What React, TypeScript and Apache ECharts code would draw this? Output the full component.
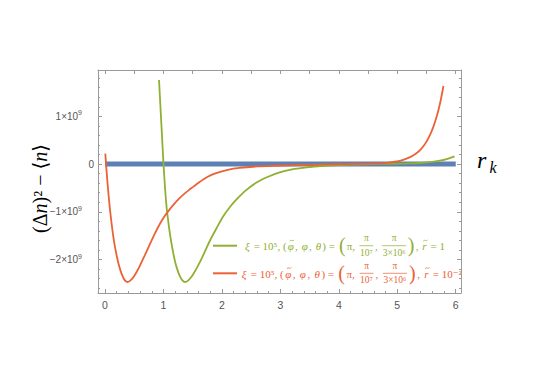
import React, { useEffect, useRef } from "react";
import * as echarts from "echarts";

// ---- data ----
const xTickValues = [0, 1, 2, 3, 4, 5, 6];
const xTickLabels = ["0", "1", "2", "3", "4", "5", "6"];
const yTickValues = [-2e9, -1e9, 0, 1e9];
const yTickMantissa = ["−2×10", "−1×10", "0", "1×10"];
const yTickExponent = ["9", "9", "", "9"];

const zeroX = [0, 6];
const zeroY = [0, 0];

// r̃ = 10^-2 (orange-red), values in units of 1e9
const redX = [0.005, 0.03, 0.057, 0.085, 0.114, 0.142, 0.171, 0.2, 0.228, 0.257, 0.285, 0.33, 0.382, 0.43, 0.485, 0.54, 0.6, 0.68, 0.77, 0.855, 0.94, 1.01, 1.08, 1.18, 1.28, 1.36, 1.44, 1.6, 1.75, 1.9, 2.1, 2.3, 2.6, 2.9, 3.2, 3.5, 3.8, 4.1, 4.4, 4.7, 4.85, 4.99, 5.1, 5.22, 5.31, 5.39, 5.45, 5.5, 5.56, 5.62, 5.66, 5.7, 5.74, 5.79];
const redY = [0.22, -0.2, -0.6, -0.95, -1.26, -1.52, -1.74, -1.92, -2.07, -2.2, -2.3, -2.42, -2.47, -2.44, -2.37, -2.26, -2.12, -1.91, -1.67, -1.45, -1.25, -1.11, -0.99, -0.84, -0.71, -0.62, -0.54, -0.39, -0.27, -0.19, -0.12, -0.08, -0.05, -0.035, -0.025, -0.015, -0.007, 0, 0.006, 0.015, 0.03, 0.055, 0.09, 0.145, 0.21, 0.29, 0.38, 0.47, 0.61, 0.79, 0.94, 1.11, 1.32, 1.635];

// r̃ = 1 (green), values in units of 1e9
const greenX = [0.924, 0.95, 0.975, 1.0, 1.027, 1.055, 1.084, 1.112, 1.14, 1.17, 1.2, 1.235, 1.27, 1.32, 1.37, 1.42, 1.48, 1.55, 1.625, 1.71, 1.8, 1.91, 2.02, 2.13, 2.25, 2.42, 2.6, 2.8, 3.0, 3.2, 3.45, 3.7, 4.02, 4.3, 4.59, 4.9, 5.16, 5.39, 5.56, 5.73, 5.86, 5.98];
const greenY = [1.76, 1.16, 0.59, 0.01, -0.5, -0.92, -1.22, -1.47, -1.68, -1.88, -2.05, -2.2, -2.32, -2.43, -2.47, -2.44, -2.36, -2.22, -2.05, -1.83, -1.59, -1.34, -1.1, -0.91, -0.74, -0.54, -0.38, -0.26, -0.17, -0.11, -0.07, -0.04, -0.02, -0.01, 0, 0.005, 0.012, 0.022, 0.04, 0.07, 0.11, 0.16];
const yUnit = 1e9;

const BLUE = "#5E81B5";
const GREEN = "#8FB032";
const RED = "#EB6235";
const SERIF = '"Liberation Serif", "DejaVu Serif", serif';
const SANS = '"Liberation Sans", "DejaVu Sans", sans-serif';

type Piece = { t?: string; it?: boolean; big?: boolean; tilde?: boolean; num?: string; den?: string };

const legendGreen: Piece[] = [
  { t: "ξ", it: true }, { t: " = 10⁵, (" }, { t: "φ", it: true, tilde: true }, { t: ", " }, { t: "φ", it: true }, { t: ", " }, { t: "θ", it: true }, { t: ") = " },
  { t: "(", big: true }, { t: "π, " }, { num: "π", den: "10⁷" }, { t: ", " }, { num: "π", den: "3×10⁶" }, { t: ")", big: true },
  { t: ", " }, { t: "r", it: true, tilde: true }, { t: " = 1" },
];
const legendRed: Piece[] = [
  { t: "ξ", it: true }, { t: " = 10⁵, (" }, { t: "φ", it: true, tilde: true }, { t: ", " }, { t: "φ", it: true }, { t: ", " }, { t: "θ", it: true }, { t: ") = " },
  { t: "(", big: true }, { t: "π, " }, { num: "π", den: "10⁷" }, { t: ", " }, { num: "π", den: "3×10⁶" }, { t: ")", big: true },
  { t: ", " }, { t: "r", it: true, tilde: true }, { t: " = 10⁻²" },
];

function range(a: number, b: number, step: number, skip: number) {
  const out: number[] = [];
  const n = Math.round((b - a) / step);
  for (let i = 0; i <= n; i++) {
    const v = +(a + i * step).toFixed(6);
    if (skip && Math.abs(v / skip - Math.round(v / skip)) < 1e-6) continue;
    out.push(v);
  }
  return out;
}

let ctx: CanvasRenderingContext2D | null = null;
function tw(s: string, size: number, italic?: boolean) {
  if (!ctx) ctx = document.createElement("canvas").getContext("2d");
  if (!ctx) return s.length * size * 0.5;
  ctx.font = `${italic ? "italic " : ""}${size}px "Liberation Serif"`;
  return ctx.measureText(s).width;
}

function buildFormula(pieces: Piece[], x0: number, x1: number, cy: number, color: string) {
  const fs = 11;
  const ffs = 9.5;
  const widths = pieces.map((p) =>
    p.num !== undefined && p.den !== undefined
      ? Math.max(tw(p.num, ffs), tw(p.den, ffs)) + 2
      : tw(p.t || "", p.big ? 20 : fs, p.it)
  );
  const total = widths.reduce((a, b) => a + b, 0);
  const extra = (x1 - x0 - total) / Math.max(1, pieces.length - 1);
  const els: any[] = [];
  let x = x0;
  pieces.forEach((p, i) => {
    const w = widths[i];
    if (p.num !== undefined && p.den !== undefined) {
      els.push({ type: "text", x: x + w / 2, y: cy - 7.5, style: { text: p.num, fill: color, fontSize: ffs, fontFamily: SERIF, align: "center", verticalAlign: "middle" } });
      els.push({ type: "text", x: x + w / 2, y: cy + 7, style: { text: p.den, fill: color, fontSize: ffs, fontFamily: SERIF, align: "center", verticalAlign: "middle" } });
      els.push({ type: "line", shape: { x1: x + 0.5, y1: cy, x2: x + w - 0.5, y2: cy }, style: { stroke: color, lineWidth: 0.7 } });
    } else if (p.t !== undefined) {
      const size = p.big ? 20 : fs;
      els.push({ type: "text", x, y: p.big ? cy - 0.5 : cy + 0.5, style: { text: p.t, fill: color, fontSize: size, fontFamily: SERIF, fontStyle: p.it ? "italic" : "normal", align: "left", verticalAlign: "middle" } });
      if (p.tilde) {
        const cx = x + w / 2 + 1;
        const ty = cy - 5.2;
        els.push({
          type: "bezierCurve",
          shape: { x1: cx - 2.3, y1: ty + 0.6, cpx1: cx - 1, cpy1: ty - 1.6, cpx2: cx + 1, cpy2: ty + 1.6, x2: cx + 2.3, y2: ty - 0.6 },
          style: { stroke: color, lineWidth: 0.7, fill: "none" },
        });
      }
    }
    x += w + extra;
  });
  return els;
}

export default function App() {
  const ref = useRef<HTMLDivElement>(null);
  useEffect(() => {
    document.body.style.margin = "0";
    if (!ref.current) return;
    const chart = echarts.init(ref.current, undefined, { renderer: "svg" });
    const xMin = -0.12, xMax = 6.09, yMin = -2.7e9, yMax = 1.97e9;
    const frame = "#9a9a9a";
    const labelColor = "#555";
    const xMinor = range(0, 6, 0.2, 1);
    const xTop = range(0, 6, 0.5, 0);
    const yMinor = range(-2.6e9, 1.8e9, 0.2e9, 1e9);

    const baseX = (extra: any) => ({ type: "value", min: xMin, max: xMax, splitLine: { show: false }, ...extra });
    const baseY = (extra: any) => ({ type: "value", min: yMin, max: yMax, splitLine: { show: false }, ...extra });
    const line = (show: boolean) => ({ show, onZero: false, lineStyle: { color: frame, width: 1 } });

    const legendEls = [
      { type: "line", shape: { x1: 213, y1: 245.7, x2: 237, y2: 245.7 }, style: { stroke: GREEN, lineWidth: 2 } },
      { type: "line", shape: { x1: 213, y1: 273.3, x2: 237, y2: 273.3 }, style: { stroke: RED, lineWidth: 2 } },
      ...buildFormula(legendGreen, 245, 445, 245.7, GREEN),
      ...buildFormula(legendRed, 241.7, 460, 273.3, RED),
    ];

    const smoothOpts = { smooth: 0.3 };

    chart.setOption({
      animation: false,
      backgroundColor: "#ffffff",
      grid: { left: 98, right: 79, top: 70, bottom: 89 },
      xAxis: [
        baseX({
          position: "bottom",
          axisLine: line(true),
          axisTick: { show: true, inside: true, length: 4, customValues: xTickValues, lineStyle: { color: frame } },
          axisLabel: {
            show: true, customValues: xTickValues, margin: 6, color: labelColor, fontSize: 10.5, fontFamily: SANS,
            formatter: (v: number) => xTickLabels[xTickValues.indexOf(v)] ?? "",
          },
        }),
        baseX({
          position: "bottom",
          axisLine: line(false),
          axisTick: { show: true, inside: true, length: 2, customValues: xMinor, lineStyle: { color: frame } },
          axisLabel: { show: false },
        }),
        baseX({
          position: "top",
          axisLine: line(true),
          axisTick: { show: true, inside: true, length: 4, customValues: xTop, lineStyle: { color: frame } },
          axisLabel: { show: false },
        }),
      ],
      yAxis: [
        baseY({
          position: "left",
          axisLine: line(true),
          axisTick: { show: true, inside: true, length: 4, customValues: yTickValues, lineStyle: { color: frame } },
          axisLabel: {
            show: true, customValues: yTickValues, margin: 4, color: labelColor, fontSize: 10, fontFamily: SANS,
            formatter: (v: number) => {
              const i = yTickValues.indexOf(v);
              if (i < 0) return "";
              return yTickExponent[i] ? `{a|${yTickMantissa[i]}}{s|${yTickExponent[i]}}` : yTickMantissa[i];
            },
            rich: {
              a: { color: labelColor, fontSize: 10, fontFamily: SANS, lineHeight: 14 },
              s: { color: labelColor, fontSize: 7, fontFamily: SANS, verticalAlign: "top", padding: [0, 12, 0, 0] },
            },
          },
        }),
        baseY({
          position: "left",
          axisLine: line(false),
          axisTick: { show: true, inside: true, length: 2, customValues: yMinor, lineStyle: { color: frame } },
          axisLabel: { show: false },
        }),
        baseY({
          position: "right",
          axisLine: line(true),
          axisTick: { show: true, inside: true, length: 4, customValues: yTickValues, lineStyle: { color: frame } },
          axisLabel: { show: false },
        }),
        baseY({
          position: "right",
          axisLine: line(false),
          axisTick: { show: true, inside: true, length: 2, customValues: yMinor, lineStyle: { color: frame } },
          axisLabel: { show: false },
        }),
      ],
      series: [
        {
          type: "line", name: "zero", xAxisIndex: 0, yAxisIndex: 0, showSymbol: false, symbol: "none",
          data: zeroX.map((x, i) => [x, zeroY[i]]),
          lineStyle: { color: BLUE, width: 5 }, z: 2,
        },
        {
          type: "line", name: "green", xAxisIndex: 0, yAxisIndex: 0, showSymbol: false, symbol: "none", ...smoothOpts,
          data: greenX.map((x, i) => [x, greenY[i] * yUnit]),
          lineStyle: { color: GREEN, width: 1.8 }, z: 3,
        },
        {
          type: "line", name: "red", xAxisIndex: 0, yAxisIndex: 0, showSymbol: false, symbol: "none", ...smoothOpts,
          data: redX.map((x, i) => [x, redY[i] * yUnit]),
          lineStyle: { color: RED, width: 1.8 }, z: 3,
        },
      ],
      graphic: [
        {
          type: "text", x: 40, y: 188.5, rotation: Math.PI / 2,
          style: {
            text: "(Δ{i|n})² − ⟨{i|n}⟩", fill: "#000", fontSize: 20, fontFamily: SERIF, align: "center", verticalAlign: "middle",
            rich: { i: { fontStyle: "italic", fontSize: 20, fontFamily: SERIF, fill: "#000" } },
          },
        },
        { type: "text", x: 477, y: 160, style: { text: "r", fill: "#000", fontSize: 24, fontStyle: "italic", fontFamily: SERIF, align: "left", verticalAlign: "middle" } },
        { type: "text", x: 489.5, y: 167.6, style: { text: "k", fill: "#000", fontSize: 16, fontStyle: "italic", fontFamily: SERIF, align: "left", verticalAlign: "middle" } },
        ...legendEls,
      ],
    });
    return () => chart.dispose();
  }, []);
  return <div ref={ref} style={{ position: "fixed", left: 0, top: 0, width: 540, height: 382, background: "#fff" }} />;
}
